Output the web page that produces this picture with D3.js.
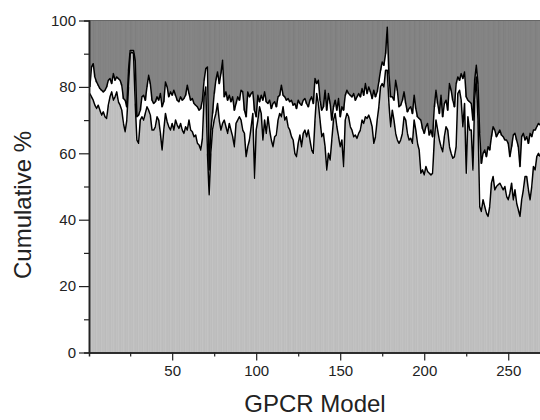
<!DOCTYPE html>
<html>
<head>
<meta charset="utf-8">
<script src="https://cdn.jsdelivr.net/npm/d3@7"></script>
<style>
  html, body { margin: 0; padding: 0; background: #fff; }
  svg { display: block; font-family: "Liberation Sans", Arial, sans-serif; }
</style>
</head>
<body>
<svg id="chart" width="540" height="420"></svg>
<script>
// cumulative % per GPCR model: lower line (top of light band) and upper line (bottom of dark band)
const upperPct = [
  80, 86, 87, 83, 81.5, 80.5, 79.5, 79, 78.5, 79, 80, 82, 82.5, 81, 84, 82, 83, 82.5, 82, 80.5,
  76.5, 76, 74, 85, 91, 91, 91, 88, 71, 71.5, 73, 77, 77.5, 76, 80, 83.5, 81, 76, 75, 75.5,
  77, 76, 78, 74, 75.5,
  81.5, 80, 77, 78.5, 77.5, 79, 77.5, 76, 75.5, 77, 76, 76.5, 77.5, 80.5, 78, 76, 76.5, 75, 74.5, 74,
  73, 73.5, 76, 82, 85.5, 86, 55, 67, 72, 78, 82, 84.5, 81, 84, 88, 77, 78.5, 76, 77.5, 75.5,
  77, 73, 75, 77, 76,
  79, 78.5, 73, 71, 78.5, 77, 78, 78.5, 73, 71, 77.5, 75.5, 77.5, 76, 78.5, 75.5, 75, 76, 73.5, 75,
  75.5, 74, 77, 77.5, 80.5, 77.5, 77, 76, 76.5, 75.5, 76, 74.5, 75, 73.5, 76, 75, 74.5, 76, 76.5, 75,
  74, 76, 77, 75, 82.5,
  81, 82, 76, 73, 74, 79, 73, 78, 75, 70, 74, 76, 73, 76.5, 71, 74, 73, 77.5, 79, 78,
  77.5, 77, 78, 76, 77, 78, 77, 79.5, 77.5, 81, 78, 80, 78.5, 76.5, 79, 77, 78.5, 81.5, 85, 87.5,
  86.5, 90, 98, 84, 77,
  77, 76, 82, 79, 74, 74.5, 76, 78.5, 75, 72.5, 73.5, 74, 72, 77.5, 73.5, 71, 70.5, 70, 67.5, 66,
  68, 69, 65.5, 67, 65, 74, 79, 75, 72, 77.5, 71, 75, 76, 73, 81, 79, 76, 74, 81, 83,
  82, 84, 82.5, 84.5, 77,
  76, 75.5, 75, 70, 82, 86.5, 81, 66, 57, 60, 61, 59, 62, 61, 65, 68, 67, 65, 66, 67,
  65.5, 65, 64, 64, 63, 59, 62, 65.5, 66, 64, 62, 56, 65, 66, 64, 65, 63, 66, 65, 67,
  67, 68, 69, 68.5
];
const lowerPct = [
  78, 77, 76, 74.5, 73.5, 74.5, 73, 71.5, 72.5, 71, 70.5, 74.5, 77, 78.5, 76, 77, 78.5, 75.5, 74.5, 73,
  69, 66.5, 70, 80, 90, 90.5, 90, 75, 64, 63, 70, 71, 70, 72, 74, 73, 71.5, 67, 67, 68,
  71, 70, 66, 61, 67,
  72, 69.5, 68, 67, 69, 67, 70, 68.5, 67.5, 69, 67, 66, 68, 67, 70, 67, 66.5, 65, 65.5, 63,
  62.5, 61, 64.5, 77, 80, 60, 47.5, 60, 67, 70, 72, 75, 70, 67, 69, 70, 68, 66, 69, 67,
  65, 62, 69, 70, 71,
  70, 67, 66, 59, 62, 64, 68, 72, 52.5, 67, 70, 74, 72, 64, 70, 66, 71, 67, 64, 62,
  65, 65.5, 70, 72, 71, 74, 70, 71, 68, 67, 65, 64, 60, 59, 63, 65.5, 62, 66, 67, 65,
  67, 64, 61, 60, 70,
  78, 75, 70, 65, 66, 62, 55, 60, 58, 64, 70, 72, 68, 65, 62, 64, 56, 70, 72, 71,
  68, 67, 65, 65.5, 64.5, 66, 67, 70, 69, 71, 70.5, 71.5, 70, 68, 63, 65, 70, 74, 80, 81,
  80, 85, 85, 75, 68,
  73, 70, 66, 64, 63, 64, 66, 71, 70, 66, 64, 64.5, 63, 70, 67, 63, 61, 54, 55, 53.5,
  56, 54.5, 54, 53.5, 54, 64, 70, 67, 64, 62, 60.5, 65, 68, 67, 62, 60, 58.5, 59, 62, 78,
  79, 76, 68, 75, 54,
  71, 67, 67, 55, 76, 83, 70, 44, 42.5, 46, 44, 42, 41, 44, 51, 53, 49, 50, 50.5, 51,
  50, 49, 50, 47, 46, 48, 51, 46, 49, 45, 43, 41, 46, 49, 53, 53, 49, 46, 50, 56,
  55, 59, 60, 59
];
const xTickLabels = [50, 100, 150, 200, 250];
const xMinorTicks = [25, 75, 125, 175, 225];
const yTickLabels = [0, 20, 40, 60, 80, 100];
const yMinorTicks = [10, 30, 50, 70, 90];

const svg = d3.select("#chart");
const margin = { top: 20.5, right: -1, bottom: 67.5, left: 89 };
const width = 540 - margin.left - margin.right;
const height = 420 - margin.top - margin.bottom;

const nModels = upperPct.length;
const models = d3.range(1, nModels + 1);

const x = d3.scaleLinear().domain([0.5, nModels + 0.5]).range([0, width]);
const y = d3.scaleLinear().domain([0, 100]).range([height, 0]);

// stack: light band up to lower line, white gap, dark band above upper line
const table = models.map((m, i) => ({
  model: m,
  low: lowerPct[i],
  gap: upperPct[i] - lowerPct[i],
  high: 100 - upperPct[i]
}));
const series = d3.stack().keys(["low", "gap", "high"])(table);
const fills = { low: "#c3c3c3", gap: "#ffffff", high: "#858585" };
const edges = { low: "#b3b3b3", gap: "#ffffff", high: "#777777" };

const g = svg.append("g").attr("transform", `translate(${margin.left},${margin.top})`);

g.append("g")
  .selectAll("g")
  .data(series)
  .join("g")
  .attr("fill", (d) => fills[d.key])
  .attr("stroke", (d) => edges[d.key])
  .attr("stroke-width", 0.45)
  .selectAll("rect")
  .data((d) => d)
  .join("rect")
  .attr("x", (d) => x(d.data.model - 0.5))
  .attr("width", x(1.5) - x(0.5))
  .attr("y", (d) => y(d[1]))
  .attr("height", (d) => y(d[0]) - y(d[1]));

// the two boundary lines
const line = d3.line()
  .x((d) => x(d[0]))
  .y((d) => y(d[1]));

[lowerPct, upperPct].forEach((vals) => {
  g.append("path")
    .datum(models.map((m, i) => [m, vals[i]]))
    .attr("fill", "none")
    .attr("stroke", "#000")
    .attr("stroke-width", 1.5)
    .attr("stroke-linejoin", "round")
    .attr("d", line);
});

// top frame
g.append("line")
  .attr("x1", 0).attr("x2", width)
  .attr("y1", 0).attr("y2", 0)
  .attr("stroke", "#666").attr("stroke-width", 1);

// axes
const styleAxis = (sel) => {
  sel.select(".domain").attr("stroke", "#222").attr("stroke-width", 1.5);
  sel.selectAll(".tick line").attr("stroke", "#222").attr("stroke-width", 1.2);
  sel.selectAll(".tick text").attr("fill", "#222").style("font-size", "15px");
};

g.append("g")
  .attr("transform", `translate(0,${height})`)
  .call(d3.axisBottom(x).tickValues(xMinorTicks).tickSize(4).tickFormat(""))
  .call(styleAxis);
g.append("g")
  .attr("transform", `translate(0,${height})`)
  .call(d3.axisBottom(x).tickValues(xTickLabels).tickSize(8).tickPadding(5).tickSizeOuter(0))
  .call(styleAxis);

g.append("g")
  .call(d3.axisLeft(y).tickValues(yMinorTicks).tickSize(5).tickFormat(""))
  .call(styleAxis);
g.append("g")
  .call(d3.axisLeft(y).tickValues(yTickLabels).tickSize(10).tickPadding(3).tickSizeOuter(0))
  .call(styleAxis);

// axis titles
svg.append("text")
  .attr("x", margin.left + width / 2)
  .attr("y", 412)
  .attr("text-anchor", "middle")
  .attr("fill", "#222")
  .style("font-size", "24px")
  .text("GPCR Model");

svg.append("text")
  .attr("transform", "translate(31,205) rotate(-90)")
  .attr("text-anchor", "middle")
  .attr("fill", "#222")
  .style("font-size", "24px")
  .text("Cumulative %");
</script>
</body>
</html>
